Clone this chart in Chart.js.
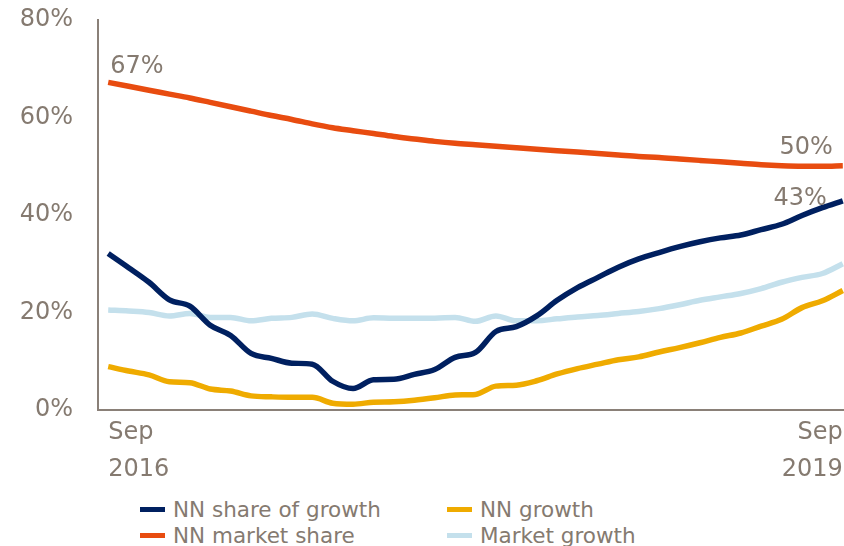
<!DOCTYPE html>
<html>
<head>
<meta charset="utf-8">
<script src="https://cdn.jsdelivr.net/npm/chart.js@4"></script>
<style>
  body { margin: 0; background: #fff; overflow: hidden; }
  #wrap { position: relative; width: 844px; height: 546px; overflow: hidden; font-family: "DejaVu Sans", Verdana, sans-serif; }
  /* plot runs slightly past the right edge, like the original */
  #box { position: absolute; left: 0; top: 0; width: 853px; height: 490px; }
  #legend { position: absolute; left: 140px; top: 496px; display: grid; grid-template-columns: 307px auto; color: #857a70; font-size: 21.5px; }
  .item { display: flex; align-items: center; height: 26px; white-space: nowrap; }
  .swatch { width: 25px; height: 5px; margin-right: 8px; }
</style>
</head>
<body>
<div id="wrap">
  <div id="box"><canvas id="myChart"></canvas></div>
  <div id="legend"></div>
</div>
<script>
// monthly, Sep 2016 - Sep 2019
const months = [
  "Sep 2016", "Oct 2016", "Nov 2016", "Dec 2016", "Jan 2017", "Feb 2017", "Mar 2017", "Apr 2017",
  "May 2017", "Jun 2017", "Jul 2017", "Aug 2017", "Sep 2017", "Oct 2017", "Nov 2017", "Dec 2017",
  "Jan 2018", "Feb 2018", "Mar 2018", "Apr 2018", "May 2018", "Jun 2018", "Jul 2018", "Aug 2018",
  "Sep 2018", "Oct 2018", "Nov 2018", "Dec 2018", "Jan 2019", "Feb 2019", "Mar 2019", "Apr 2019",
  "May 2019", "Jun 2019", "Jul 2019", "Aug 2019", "Sep 2019"
];

const nnShareOfGrowth = [
  32.1, 29.2, 26.2, 22.6, 21.3, 17.4, 15.3, 11.6, 10.6, 9.6, 9.4, 5.9, 4.4, 6.2, 6.3, 7.3,
  8.3, 10.8, 11.8, 16.1, 17.1, 19.3, 22.5, 25.1, 27.2, 29.3, 31.0, 32.3, 33.5, 34.5, 35.3,
  35.9, 37.0, 38.1, 39.9, 41.5, 42.9
];
const nnGrowth = [
  8.9, 8.0, 7.2, 5.8, 5.6, 4.3, 3.9, 2.9, 2.7, 2.6, 2.6, 1.4, 1.2, 1.6, 1.7, 2.0,
  2.5, 3.1, 3.2, 4.9, 5.1, 6.0, 7.4, 8.5, 9.4, 10.3, 10.9, 11.9, 12.8, 13.8, 14.9,
  15.8, 17.2, 18.6, 21.0, 22.4, 24.5
];
const nnMarketShare = [
  67.2, 66.4, 65.6, 64.8, 64.0, 63.1, 62.2, 61.3, 60.4, 59.6, 58.7, 57.9, 57.3, 56.7, 56.1, 55.6,
  55.1, 54.7, 54.4, 54.1, 53.8, 53.5, 53.2, 52.9, 52.6, 52.3, 52.0, 51.8, 51.5, 51.2, 50.9,
  50.6, 50.3, 50.1, 50.0, 50.0, 50.1
];
const marketGrowth = [
  20.5, 20.3, 20.0, 19.3, 19.8, 19.0, 19.0, 18.3, 18.8, 19.0, 19.7, 18.8, 18.3, 18.9, 18.8, 18.8,
  18.8, 19.0, 18.2, 19.3, 18.3, 18.3, 18.7, 19.1, 19.4, 19.8, 20.2, 20.8, 21.6, 22.5, 23.2,
  23.9, 24.9, 26.2, 27.2, 28.0, 30.0
];
const yTicks = [0, 20, 40, 60, 80];

const grey = "#857a70";
const axisGrey = "#8a8078";
const font = "'DejaVu Sans', Verdana, sans-serif";

function line(label, data, color) {
  return {
    label, data,
    borderColor: color, backgroundColor: color,
    borderWidth: 5.5, pointRadius: 0,
    cubicInterpolationMode: "monotone",
  };
}

// end-point value labels (67%, 50%, 43%)
const pointLabels = {
  id: "pointLabels",
  afterDatasetsDraw(chart) {
    const ctx = chart.ctx;
    const spots = [
      { ds: 2, i: 0, align: "left", dx: 2, dy: -9 },
      { ds: 2, i: months.length - 1, align: "right", dx: -10, dy: -12 },
      { ds: 0, i: months.length - 1, align: "right", dx: -16, dy: 4 },
    ];
    ctx.save();
    ctx.font = "24px " + font;
    ctx.fillStyle = grey;
    ctx.textBaseline = "alphabetic";
    spots.forEach((s) => {
      const pt = chart.getDatasetMeta(s.ds).data[s.i];
      const v = chart.data.datasets[s.ds].data[s.i];
      ctx.textAlign = s.align;
      ctx.fillText(Math.round(v) + "%", pt.x + s.dx, pt.y + s.dy);
    });
    ctx.restore();
  },
};

const myChart = document.querySelector("#myChart");
const chart = new Chart(myChart, {
  type: "line",
  data: {
    labels: months,
    datasets: [
      line("NN share of growth", nnShareOfGrowth, "#002060"),
      line("NN growth", nnGrowth, "#efab00"),
      line("NN market share", nnMarketShare, "#e84c10"),
      line("Market growth", marketGrowth, "#c4e0ec"),
    ],
  },
  options: {
    responsive: true,
    maintainAspectRatio: false,
    animation: false,
    layout: { padding: { top: 20, right: 0, left: 0, bottom: 0 } },
    plugins: { legend: { display: false }, tooltip: { enabled: false } },
    scales: {
      x: {
        offset: true,
        grid: { display: false, drawTicks: false, offset: false },
        border: { display: true, color: axisGrey, width: 2 },
        afterFit(scale) { scale.height = 80; },
        ticks: {
          autoSkip: false,
          maxRotation: 0,
          align: "inner",
          padding: 4,
          color: grey,
          font: { family: font, size: 24, lineHeight: 1.54 },
          callback(val, i) {
            if (i === 0 || i === months.length - 1) return months[i].split(" ");
            return "";
          },
        },
      },
      y: {
        min: 0,
        max: 80,
        grid: { display: false, drawTicks: false },
        border: { display: true, color: axisGrey, width: 2 },
        afterFit(scale) {
          scale.width = 98;
          scale.paddingTop = 0;
          scale.paddingBottom = 0;
        },
        afterBuildTicks(scale) { scale.ticks = yTicks.map((v) => ({ value: v })); },
        ticks: {
          padding: 25,
          color: grey,
          font: { family: font, size: 24 },
          callback: (v) => v + "%",
        },
      },
    },
  },
  plugins: [pointLabels],
});

// two-column legend under the chart
const legend = document.querySelector("#legend");
chart.data.datasets.forEach((ds) => {
  const item = document.createElement("div");
  item.className = "item";
  item.innerHTML = `<span class="swatch" style="background:${ds.borderColor}"></span>${ds.label}`;
  legend.appendChild(item);
});
</script>
</body>
</html>
